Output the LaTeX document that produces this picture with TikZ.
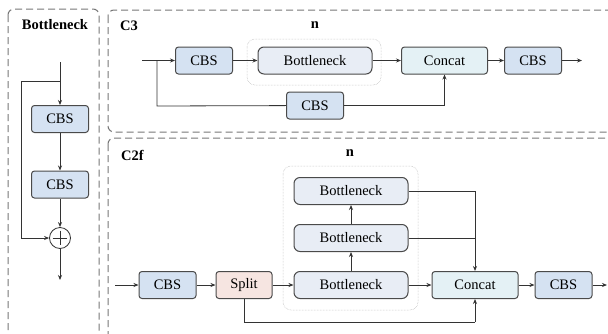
\documentclass[tikz,border=0pt]{standalone}
\usepackage{fontspec}
\setmainfont{Liberation Serif}
\usetikzlibrary{arrows.meta,calc}
\definecolor{cbsfill}{HTML}{D5E2F2}
\definecolor{bnfill}{HTML}{E8EDF5}
\definecolor{catfill}{HTML}{E4F1F5}
\definecolor{splitfill}{HTML}{F6E5E1}
\definecolor{boxline}{HTML}{4A4A4A}
\definecolor{panelline}{HTML}{777777}
\definecolor{conline}{HTML}{333333}
\begin{document}
\begin{tikzpicture}[x=1pt,y=-1pt,
  font=\fontsize{14.5}{16}\selectfont,
  blk/.style={draw=boxline,line width=1pt,rounded corners=3pt,minimum height=27pt,inner sep=0pt},
  cbs/.style={blk,fill=cbsfill,minimum width=57pt},
  bn/.style={blk,fill=bnfill,minimum width=114pt,rounded corners=6pt},
  cat/.style={blk,fill=catfill,minimum width=86pt},
  spl/.style={blk,fill=splitfill,minimum width=56pt},
  panel/.style={draw=panelline,line width=1pt,dash pattern=on 7pt off 4pt,rounded corners=6pt},
  grp/.style={draw=black!30,line width=0.5pt,densely dotted,rounded corners=8pt},
  ttl/.style={font=\fontsize{14.5}{16}\selectfont\bfseries,inner sep=0pt},
  con/.style={draw=conline,line width=0.8pt},
  arr/.style={con,-{Stealth[length=5pt,width=4pt]}}
]
\useasboundingbox (0,0) rectangle (608,333);
\clip (0,0) rectangle (608,333);
\fill[white] (0,0) rectangle (608,333);
% panels
\draw[panel] (8,9) rectangle (99,350);
\draw[panel] (108,10) rectangle (630,132);
\draw[panel] (108,138) rectangle (630,350);
% ---------- Bottleneck panel
\node[ttl] (tb) at (55,25) {Bottleneck};
\coordinate (bin) at (60,62);
\coordinate (bsp) at (60,81);
\coordinate (bl1) at (21,81);
\coordinate (bl2) at (21,238);
\node[cbs] (b1) at (60,119) {CBS};
\node[cbs] (b2) at (60,184.5) {CBS};
\node[draw=conline,line width=0.8pt,circle,minimum size=21pt,inner sep=0pt,fill=white] (add) at (60,238) {};
\draw[con] ($(add.north)+(0,3.5)$) -- ($(add.south)+(0,-3.5)$);
\draw[con] ($(add.west)+(3.5,0)$) -- ($(add.east)+(-3.5,0)$);
\coordinate (bout) at (60,280);
\draw[arr] (bin) -- (b1);
\draw[con] (bsp) -- (bl1) -- (bl2);
\draw[arr] (bl2) -- (add.west);
\draw[arr] (b1) -- (b2);
\draw[arr] (b2) -- (add.north);
\draw[arr] (add.south) -- (bout);
% ---------- C3 panel
\node[ttl,anchor=west] (t3) at (120,26) {C3};
\node[ttl] (n3) at (315,25) {n};
\draw[grp] (247,39) rectangle (381,85);
\coordinate (c3in) at (142,60.5);
\coordinate (c3sp) at (157,60.5);
\coordinate (c3l) at (157,106);
\node[cbs] (c3a) at (204,60.5) {CBS};
\node[bn] (c3b) at (315,60.5) {Bottleneck};
\node[cat] (c3c) at (444.5,60.5) {Concat};
\node[cbs] (c3d) at (533,60.5) {CBS};
\node[cbs] (c3e) at (315,105.5) {CBS};
\coordinate (c3r) at (444.5,105.5);
\coordinate (c3out) at (582,60.5);
\draw[arr] (c3in) -- (c3a);
\draw[arr] (c3a) -- (c3b);
\draw[arr] (c3b) -- (c3c);
\draw[arr] (c3c) -- (c3d);
\draw[arr] (c3d) -- (c3out);
\draw[con] (c3sp) -- (c3l) -- (c3e);
\draw[con] (c3e) -- (c3r);
\draw[arr] (c3r) -- (c3c.south);
% ---------- C2f panel
\node[ttl,anchor=west] (t2) at (121,155) {C2f};
\node[ttl] (n2) at (350,153) {n};
\draw[grp] (283,166) rectangle (418,310);
\coordinate (c2in) at (115,285);
\node[cbs] (c2a) at (167.5,285) {CBS};
\node[spl] (c2s) at (244,285) {Split};
\node[bn] (c2b1) at (351,285) {Bottleneck};
\node[bn] (c2b2) at (351,238) {Bottleneck};
\node[bn] (c2b3) at (351,191) {Bottleneck};
\node[cat] (c2c) at (475,285) {Concat};
\node[cbs] (c2d) at (563.5,285) {CBS};
\coordinate (c2out) at (607,285);
\coordinate (c2t) at (475,191);
\coordinate (c2m) at (475,238);
\coordinate (c2l) at (244,322);
\coordinate (c2r) at (475,322);
\draw[arr] (c2in) -- (c2a);
\draw[arr] (c2a) -- (c2s);
\draw[arr] (c2s) -- (c2b1);
\draw[arr] (c2b1) -- (c2b2);
\draw[arr] (c2b2) -- (c2b3);
\draw[arr] (c2b1) -- (c2c);
\draw[arr] (c2c) -- (c2d);
\draw[arr] (c2d) -- (c2out);
\draw[con] (c2b3.east) -- (c2t);
\draw[con] (c2b2.east) -- (c2m);
\draw[arr] (c2t) -- (c2c.north);
\draw[con] (c2s.south) -- (c2l) -- (c2r);
\draw[arr] (c2r) -- (c2c.south);
\end{tikzpicture}
\end{document}
